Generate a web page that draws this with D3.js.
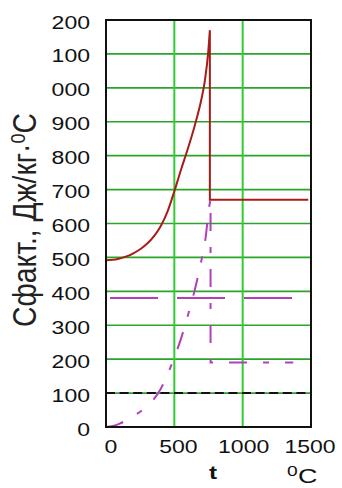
<!DOCTYPE html>
<html><head><meta charset="utf-8">
<script src="https://cdn.jsdelivr.net/npm/d3@7"></script>
<style>html,body{margin:0;padding:0;background:#fff;overflow:hidden}</style>
</head><body>
<svg id="c" width="342" height="488"></svg>
<script>
// ---- data ----
const xTicks = [0, 500, 1000, 1500];
const xTickLabels = ["0", "500", "1000", "1500"];
const yTicks = [0, 100, 200, 300, 400, 500, 600, 700, 800, 900, 1000, 1100, 1200];
const yTickLabels = ["0", "100", "200", "300", "400", "500", "600", "700", "800", "900", "000", "100", "200"];

// C_fact (red, solid): rising part, then drop and plateau
const redT = [0, 50, 100, 150, 200, 250, 300, 350, 400, 450, 500, 550, 600, 650, 700, 725, 750, 760];
const redC = [492, 493, 497, 503, 512, 524, 540, 562, 592, 635, 695, 760, 822, 890, 970, 1025, 1115, 1170];
const redTailT = [760, 760, 1480];
const redTailC = [1170, 670, 670];

// second series (magenta, dash-dot): rising part, then drop and plateau
const magT = [0, 50, 100, 150, 200, 250, 300, 350, 400, 450, 500, 550, 600, 650, 700, 730, 750, 765];
const magC = [0, 3, 10, 20, 32, 45, 62, 82, 112, 155, 205, 262, 330, 405, 495, 561, 635, 672];
const magTailT = [765, 765, 1370];
const magTailC = [672, 190, 190];

// constant level (magenta, dashed)
const constT = [0, 1370];
const constC = [380, 380];

// reference level (black, dashed)
const refT = [0, 1500];
const refC = [100, 100];

// ---- chart ----
const svg = d3.select("#c");
const L = 106, R = 311, T = 20, B = 427;
const x = d3.scaleLinear().domain([0, 1500]).range([L, R]);
const y = d3.scaleLinear().domain([0, 1200]).range([B, T]);
const SX = 1.28;
const numFont = "'Liberation Sans', Arial, sans-serif";

// grid
svg.append("g").selectAll("line").data(yTicks.filter(v => v > 0 && v < 1200)).join("line")
  .attr("x1", L).attr("x2", R).attr("y1", d => y(d)).attr("y2", d => y(d))
  .attr("stroke", "#2aa52a").attr("stroke-width", 1.6);
svg.append("g").selectAll("line").data(xTicks.filter(v => v > 0 && v < 1500)).join("line")
  .attr("y1", T).attr("y2", B).attr("x1", d => x(d)).attr("x2", d => x(d))
  .attr("stroke", "#30cc30").attr("stroke-width", 2);

const line = d3.line().x(d => x(d[0])).y(d => y(d[1]));
const smooth = d3.line().x(d => x(d[0])).y(d => y(d[1])).curve(d3.curveMonotoneX);
const zip = (a, b) => a.map((v, i) => [v, b[i]]);

svg.append("path").datum(zip(refT, refC)).attr("d", line)
  .attr("fill", "none").attr("stroke", "#111").attr("stroke-width", 2)
  .attr("stroke-dasharray", "9,4.6");

svg.append("path").datum(zip(constT, constC)).attr("d", line)
  .attr("fill", "none").attr("stroke", "#b040b8").attr("stroke-width", 2)
  .attr("stroke-dasharray", "48,19").attr("stroke-dashoffset", -4);

// magenta curve as one path (smooth rise + linear tail)
const magD = smooth(zip(magT, magC)) + line(zip(magTailT, magTailC)).replace(/^M/, "L");
svg.append("path").attr("d", magD)
  .attr("fill", "none").attr("stroke", "#b040b8").attr("stroke-width", 2)
  .attr("stroke-dasharray", "18,16,6,16");

const redD = smooth(zip(redT, redC)) + line(zip(redTailT, redTailC)).replace(/^M/, "L");
svg.append("path").attr("d", redD)
  .attr("fill", "none").attr("stroke", "#a81c18").attr("stroke-width", 2);

// frame
svg.append("rect").attr("x", L).attr("y", T).attr("width", R - L).attr("height", B - T)
  .attr("fill", "none").attr("stroke", "#111").attr("stroke-width", 2);

// y tick labels
svg.append("g").selectAll("text").data(yTicks).join("text")
  .attr("transform", d => `translate(90,${y(d) + 8.5}) scale(${SX},1)`)
  .attr("text-anchor", "end").attr("font-family", numFont).attr("font-size", 18)
  .attr("fill", "#111").text((d, i) => yTickLabels[i]);

// x tick labels
svg.append("g").selectAll("text").data(xTicks).join("text")
  .attr("transform", (d, i) => `translate(${x(d) + [5, 4, 1, -1][i]},453) scale(${SX},1)`)
  .attr("text-anchor", "middle").attr("font-family", numFont).attr("font-size", 18)
  .attr("fill", "#111").text((d, i) => xTickLabels[i]);

// x title
svg.append("text").attr("transform", `translate(213,479) scale(${SX},1)`)
  .attr("text-anchor", "middle").attr("font-family", numFont).attr("font-size", 19)
  .attr("font-weight", "bold").attr("fill", "#111").text("t");
svg.append("text").attr("transform", `translate(287,476) scale(${SX},1)`)
  .attr("font-family", numFont).attr("font-size", 15).attr("fill", "#111").text("0");
svg.append("text").attr("transform", `translate(298,483) scale(${SX},1)`)
  .attr("font-family", numFont).attr("font-size", 21).attr("fill", "#111").text("C");

// y title
const yt = svg.append("text").attr("font-family", numFont).attr("font-size", 33)
  .attr("fill", "#222").attr("text-anchor", "middle");
yt.append("tspan").text("Сфакт., Дж/кг·");
yt.append("tspan").attr("font-size", 21).attr("dy", -11).text("0");
yt.append("tspan").attr("dy", 11).text("С");
const natural = yt.node().getComputedTextLength();
const sx = 214 / natural;
yt.attr("transform", `translate(36,220) rotate(-90) scale(${sx},1)`);
</script>
</body></html>
